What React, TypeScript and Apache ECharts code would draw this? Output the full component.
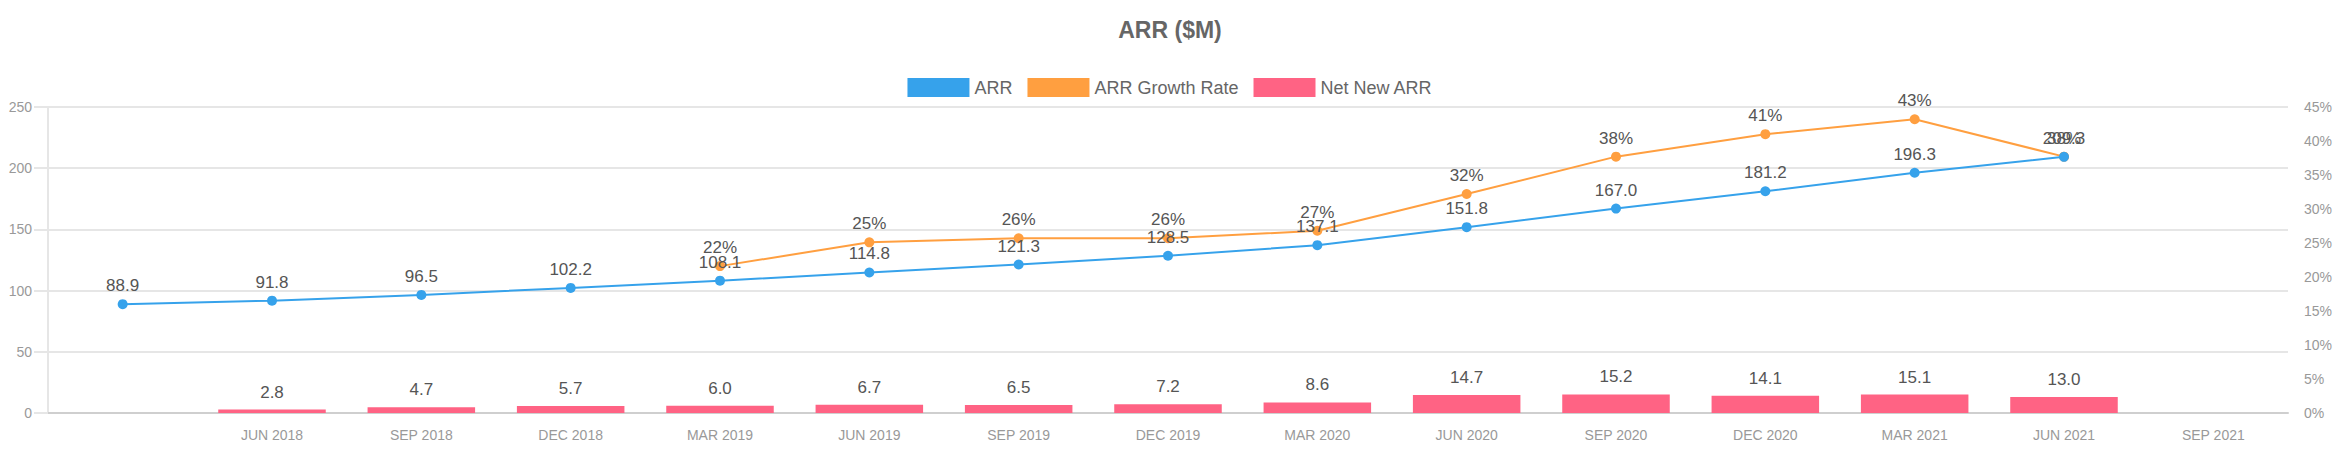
import React, { useEffect, useRef } from "react";
import * as echarts from "echarts";

const categories = [
  "",
  "JUN 2018",
  "SEP 2018",
  "DEC 2018",
  "MAR 2019",
  "JUN 2019",
  "SEP 2019",
  "DEC 2019",
  "MAR 2020",
  "JUN 2020",
  "SEP 2020",
  "DEC 2020",
  "MAR 2021",
  "JUN 2021",
  "SEP 2021",
];

const arr = [88.9, 91.8, 96.5, 102.2, 108.1, 114.8, 121.3, 128.5, 137.1, 151.8, 167.0, 181.2, 196.3, 209.3, null];
const growthRate = [null, null, null, null, 21.6, 25.1, 25.7, 25.7, 26.8, 32.2, 37.7, 41.0, 43.2, 37.7, null];
const netNewArr = [null, 2.8, 4.7, 5.7, 6.0, 6.7, 6.5, 7.2, 8.6, 14.7, 15.2, 14.1, 15.1, 13.0, null];

const leftTicks = { min: 0, max: 250, interval: 50 };
const rightTicks = { min: 0, max: 45, interval: 5 };

const FONT = "'Liberation Sans', Arial, Helvetica, sans-serif";
const BLUE = "#36a2eb";
const ORANGE = "#ff9f40";
const PINK = "#ff6384";
const LABEL = "#555";
const AXIS = "#999";

export default function App() {
  const ref = useRef<HTMLDivElement>(null);

  useEffect(() => {
    if (!ref.current) return;
    const chart = echarts.init(ref.current, undefined, { renderer: "svg" });
    chart.setOption({
      animation: false,
      textStyle: { fontFamily: FONT },
      title: {
        text: "ARR ($M)",
        left: "center",
        top: 13,
        textStyle: { fontSize: 23, fontWeight: "bold", color: "#666", fontFamily: FONT },
      },
      legend: {
        top: 73,
        left: "center",
        icon: "rect",
        itemWidth: 62,
        itemHeight: 19,
        itemGap: 15,
        textStyle: { fontSize: 18, color: "#666", fontFamily: FONT },
        data: ["ARR", "ARR Growth Rate", "Net New ARR"],
      },
      grid: { left: 48, right: 52, top: 107, bottom: 37, containLabel: false },
      xAxis: {
        type: "category",
        data: categories,
        boundaryGap: true,
        axisLine: { show: true, lineStyle: { color: "#cfcfcf", width: 2 } },
        axisTick: { show: false },
        axisLabel: { color: AXIS, fontSize: 14, margin: 15, interval: 0, fontFamily: FONT },
        splitLine: { show: false },
      },
      yAxis: [
        {
          type: "value",
          position: "left",
          min: leftTicks.min,
          max: leftTicks.max,
          interval: leftTicks.interval,
          axisLine: { show: true, lineStyle: { color: "#e6e6e6", width: 2 } },
          axisTick: { show: true, length: 14, lineStyle: { color: "#e6e6e6", width: 2 } },
          axisLabel: { color: AXIS, fontSize: 14, margin: 16, fontFamily: FONT },
          splitLine: { show: true, lineStyle: { color: "#e6e6e6", width: 2 } },
        },
        {
          type: "value",
          position: "right",
          min: rightTicks.min,
          max: rightTicks.max,
          interval: rightTicks.interval,
          axisLine: { show: false },
          axisTick: { show: false },
          axisLabel: { color: AXIS, fontSize: 14, margin: 16, formatter: "{value}%", fontFamily: FONT },
          splitLine: { show: false },
        },
      ],
      series: [
        {
          name: "Net New ARR",
          type: "bar",
          yAxisIndex: 0,
          data: netNewArr,
          barWidth: "72%",
          itemStyle: { color: PINK },
          label: {
            show: true,
            position: "top",
            distance: 9,
            color: LABEL,
            fontSize: 17,
            fontFamily: FONT,
            formatter: (p: any) => (p.value == null ? "" : Number(p.value).toFixed(1)),
          },
          z: 1,
        },
        {
          name: "ARR",
          type: "line",
          yAxisIndex: 0,
          data: arr,
          symbol: "circle",
          symbolSize: 10,
          showSymbol: true,
          lineStyle: { color: BLUE, width: 2 },
          itemStyle: { color: BLUE },
          label: {
            show: true,
            position: "top",
            distance: 5,
            color: LABEL,
            fontSize: 17,
            fontFamily: FONT,
            formatter: (p: any) => (p.value == null ? "" : Number(p.value).toFixed(1)),
          },
          z: 3,
        },
        {
          name: "ARR Growth Rate",
          type: "line",
          yAxisIndex: 1,
          data: growthRate,
          symbol: "circle",
          symbolSize: 10,
          showSymbol: true,
          lineStyle: { color: ORANGE, width: 2 },
          itemStyle: { color: ORANGE },
          label: {
            show: true,
            position: "top",
            distance: 5,
            color: LABEL,
            fontSize: 17,
            fontFamily: FONT,
            formatter: (p: any) => (p.value == null ? "" : Math.round(Number(p.value)) + "%"),
          },
          z: 2,
        },
      ],
    });
    return () => chart.dispose();
  }, []);

  return (
    <div
      ref={ref}
      style={{ position: "fixed", left: 0, top: 0, width: 2340, height: 450, background: "#fff" }}
    />
  );
}
